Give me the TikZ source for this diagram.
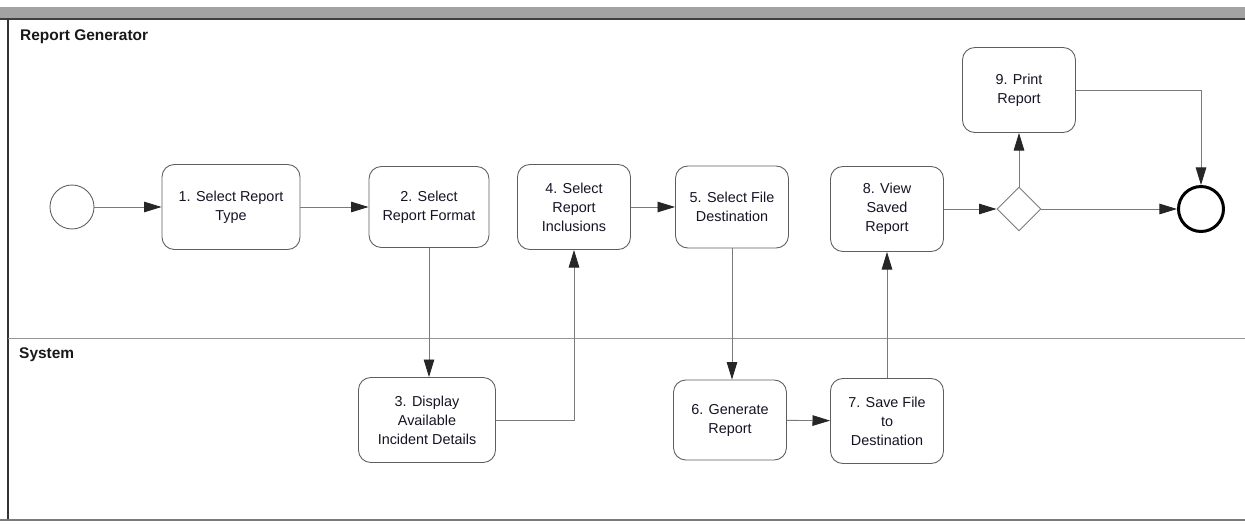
\documentclass[tikz,border=0pt]{standalone}
\usepackage{fontspec}
\setmainfont{Liberation Sans}
\usetikzlibrary{arrows.meta,shapes.geometric}

\definecolor{boxgray}{HTML}{5E5E5E}
\definecolor{linegray}{HTML}{7A7A7A}
\definecolor{bargray}{HTML}{A3A3A3}
\definecolor{textdark}{HTML}{141424}

\tikzset{
  task/.style={draw=boxgray, line width=0.5pt, rounded corners=7pt, minimum width=2.26cm,
    minimum height=1.7cm, align=center, text=textdark, inner sep=2pt,
    font=\fontsize{8.2}{10.8}\selectfont},
  flow/.style={draw=linegray, line width=0.5pt, -{Triangle[length=10pt,width=6pt,color=black!85]}},
  lane/.style={anchor=west, text=black!90, font=\fontsize{8.8}{10}\selectfont\bfseries},
  event/.style={circle, draw=boxgray, line width=0.5pt, minimum size=0.88cm, inner sep=0pt},
  endevent/.style={circle, draw=black, line width=1.7pt, minimum size=0.9cm, inner sep=0pt},
  gateway/.style={diamond, draw=linegray, line width=0.5pt, minimum width=0.88cm,
    minimum height=0.88cm, inner sep=0pt}
}

\begin{document}
\begin{tikzpicture}[x=0.02cm, y=-0.02cm]
  \useasboundingbox (0,0) rectangle (1245,524);

  % Draw the pool frame and the lane divider
  \fill[bargray] (0,7) rectangle (1245,19);
  \draw[black!75, line width=0.8pt] (0,19) -- (1245,19);
  \draw[black!80, line width=0.8pt] (8,19) -- (8,520);
  \draw[linegray, line width=0.6pt] (0,520) -- (1245,520);
  \draw[linegray!80, line width=0.5pt] (8,338) -- (1245,338);

  % Lane names
  \node[lane] (lanegen) at (14,37) {Report Generator};
  \node[lane] (lanesys) at (13,355) {System};

  % Report generator lane
  \node[event] (start) at (72,207) {};
  \node[task, minimum width=2.76cm] (t1) at (231,207) {1. Select Report\\Type};
  \node[task, minimum width=2.4cm, minimum height=1.62cm] (t2) at (429,207) {2. Select\\Report Format};
  \node[task] (t4) at (574,207) {4. Select\\Report\\Inclusions};
  \node[task, minimum height=1.64cm] (t5) at (732,207) {5. Select File\\Destination};
  \node[task] (t8) at (887,209) {8. View\\Saved\\Report};
  \node[gateway] (gate) at (1019,209) {};
  \node[task] (t9) at (1019,90) {9. Print\\Report};
  \node[endevent] (finish) at (1201,209) {};

  % System lane
  \node[task, minimum width=2.74cm] (t3) at (427,420) {3. Display\\Available\\Incident Details};
  \node[task, minimum height=1.6cm] (t6) at (730,420) {6. Generate\\Report};
  \node[task] (t7) at (887,421) {7. Save File\\to\\Destination};

  % Sequence flows
  \draw[flow] (start) -- (t1);
  \draw[flow] (t1) -- (t2);
  \draw[flow] (t2.south) -- (t2.south |- t3.north);
  \draw[flow] (t3.east) -| (t4.south);
  \draw[flow] (t4) -- (t5);
  \draw[flow] (t5.south) -- (t5.south |- t6.north);
  \draw[flow] (t6) -- (t7);
  \draw[flow] (t7.north) -- (t8.south);
  \draw[flow] (t8) -- (gate);
  \draw[flow] (gate) -- (t9);
  \draw[flow] (gate) -- (finish);
  \draw[flow] (t9.east) -| (finish.north);
\end{tikzpicture}
\end{document}
